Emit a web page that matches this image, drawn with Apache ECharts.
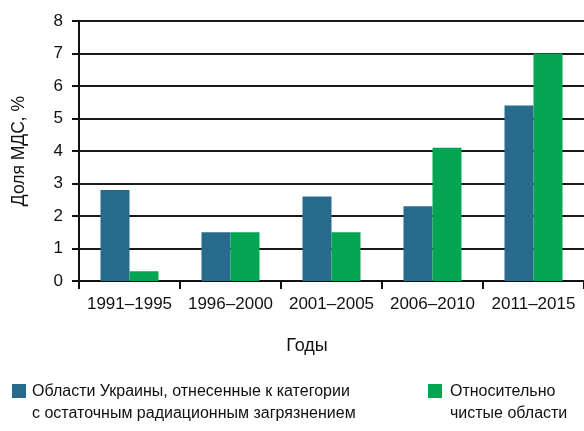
<!DOCTYPE html>
<html>
<head>
<meta charset="utf-8">
<script src="https://cdn.jsdelivr.net/npm/echarts@6/dist/echarts.min.js"></script>
<style>
  html, body { margin: 0; padding: 0; background: #fff; }
  #chart { width: 584px; height: 431px; }
</style>
</head>
<body>
<div id="chart"></div>
<script>
// Five-year periods
const periods = ['1991–1995', '1996–2000', '2001–2005', '2006–2010', '2011–2015'];
// Share of МДС, % — regions with residual radiation contamination
const contaminated = [2.8, 1.5, 2.6, 2.3, 5.4];
// Share of МДС, % — relatively clean regions
const clean = [0.3, 1.5, 1.5, 4.1, 7.0];
const yTicks = [0, 1, 2, 3, 4, 5, 6, 7, 8];

const seriesNames = [
  'Области Украины, отнесенные к категории\nс остаточным радиационным загрязнением',
  'Относительно\nчистые области'
];
const colors = ['#276a8c', '#03a552'];

const FONT = 'Liberation Sans, Arial, sans-serif';
const INK = '#111';

const chart = echarts.init(document.getElementById('chart'), null, { renderer: 'canvas' });

chart.setOption({
  animation: false,
  backgroundColor: '#fff',
  textStyle: { fontFamily: FONT },
  grid: { left: 79, right: 0, top: 21, bottom: 150, containLabel: false },
  xAxis: {
    type: 'category',
    data: periods,
    axisLine: { show: true, lineStyle: { color: INK, width: 2 } },
    axisTick: { show: true, length: 8, lineStyle: { color: INK, width: 2 } },
    axisLabel: { interval: 0, fontSize: 17, color: INK, margin: 15, fontFamily: FONT }
  },
  yAxis: {
    type: 'value',
    min: yTicks[0],
    max: yTicks[yTicks.length - 1],
    interval: 1,
    name: 'Доля МДС, %',
    nameLocation: 'middle',
    nameRotate: 90,
    nameGap: 51,
    nameTextStyle: { fontSize: 17.5, color: INK, fontFamily: FONT },
    axisLine: { show: true, lineStyle: { color: INK, width: 2 } },
    axisTick: { show: true, length: 7, lineStyle: { color: INK, width: 2 } },
    axisLabel: { fontSize: 17, color: INK, margin: 16, fontFamily: FONT },
    splitLine: { show: true, lineStyle: { color: '#1a1a1a', width: 2 } }
  },
  series: [
    {
      name: seriesNames[0],
      type: 'bar',
      data: contaminated,
      barWidth: 29,
      barGap: '0%',
      itemStyle: { color: colors[0] }
    },
    {
      name: seriesNames[1],
      type: 'bar',
      data: clean,
      barWidth: 29,
      barGap: '0%',
      itemStyle: { color: colors[1] }
    }
  ],
  graphic: [
    {
      type: 'text',
      x: 307, y: 337,
      style: { text: 'Годы', fontSize: 18, fill: INK, fontFamily: FONT, align: 'center', verticalAlign: 'top' }
    },
    // Legend: swatch + two-line caption for each series
    {
      type: 'rect',
      shape: { x: 12, y: 384, width: 14, height: 14 },
      style: { fill: colors[0] }
    },
    {
      type: 'text',
      left: 32, top: 381,
      style: { text: seriesNames[0], fontSize: 16, lineHeight: 22, fill: INK, fontFamily: FONT }
    },
    {
      type: 'rect',
      shape: { x: 428, y: 384, width: 14, height: 14 },
      style: { fill: colors[1] }
    },
    {
      type: 'text',
      left: 450, top: 381,
      style: { text: seriesNames[1], fontSize: 16, lineHeight: 22, fill: INK, fontFamily: FONT }
    }
  ]
});
</script>
</body>
</html>
